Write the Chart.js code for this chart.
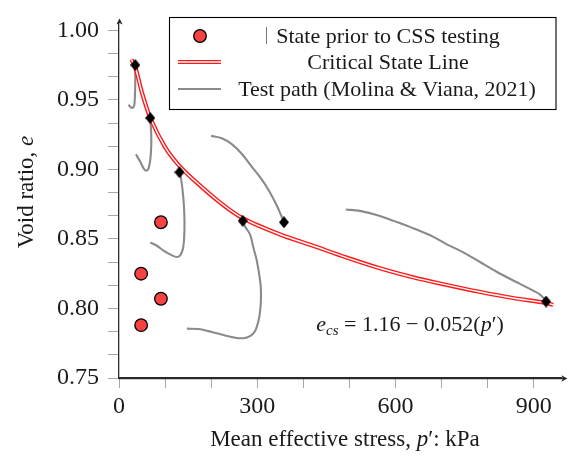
<!DOCTYPE html>
<html><head><meta charset="utf-8">
<script src="https://cdn.jsdelivr.net/npm/chart.js@4.4.1/dist/chart.umd.min.js"></script>
<style>html,body{margin:0;padding:0;background:#fff}</style>
</head><body>
<canvas id="c" width="569" height="457"></canvas>
<script>
// ---------- data ----------
const statePriorP = [91, 48, 91, 48];
const statePriorE = [0.862, 0.825, 0.807, 0.788];

const testEndP = [35.3, 67.8, 131.2, 268.5, 358.0, 926.8];
const testEndE = [0.975, 0.937, 0.898, 0.863, 0.862, 0.805];

const cslP = [27, 35, 50, 68, 100, 131, 165, 220, 268, 350, 421, 494, 566, 638, 696, 782, 855, 927, 942];
const cslE = [0.979, 0.974, 0.955, 0.937, 0.916, 0.9025, 0.8916, 0.876, 0.865, 0.8532, 0.8451, 0.8366, 0.8289, 0.8224, 0.818, 0.812, 0.8075, 0.804, 0.8026];

const path1P = [35.3, 35.3, 34.6, 33.1, 29.4, 24.5, 20.8];
const path1E = [0.9751, 0.9624, 0.9531, 0.9461, 0.9443, 0.9450, 0.9466];
const path2P = [67.8, 69.9, 69.9, 67.8, 64.1, 59.1, 53.3, 46.1, 36.8];
const path2E = [0.9369, 0.9252, 0.9159, 0.9067, 0.9008, 0.8990, 0.9008, 0.9055, 0.9109];
const path3P = [131.2, 134.3, 137.7, 140.8, 142.1, 141.4, 138.6, 132.7, 125.6, 114.8, 96.6, 82.3, 67.8];
const path3E = [0.8978, 0.8939, 0.8858, 0.8742, 0.8625, 0.8510, 0.8428, 0.8382, 0.8370, 0.8382, 0.8416, 0.8451, 0.8475];
const path4P = [199.9, 223.0, 244.7, 266.3, 288.0, 309.7, 327.6, 342.1, 351.5, 358.0];
const path4E = [0.9241, 0.9224, 0.9182, 0.9113, 0.9020, 0.8928, 0.8834, 0.8742, 0.8672, 0.8621];
const path5P = [268.5, 273.5, 284.3, 291.5, 298.8, 303.8, 307.5, 308.1, 306.0, 302.3, 295.1, 284.3, 269.8, 251.8, 230.2, 201.4, 172.4, 147.2];
const path5E = [0.8632, 0.8590, 0.8533, 0.8440, 0.8347, 0.8254, 0.8162, 0.8068, 0.7976, 0.7906, 0.7836, 0.7801, 0.7786, 0.7790, 0.7806, 0.7831, 0.7852, 0.7855];
const path6P = [492.2, 522.5, 551.3, 580.3, 609.1, 645.3, 681.2, 710.3, 746.2, 782.4, 818.5, 854.5, 890.6, 912.3, 926.8];
const path6E = [0.8712, 0.8702, 0.8679, 0.8649, 0.8614, 0.8568, 0.8517, 0.8463, 0.8405, 0.8336, 0.8266, 0.8203, 0.8143, 0.8103, 0.8057];

const xMajorTicks = [0, 300, 600, 900];
const yMajorTicks = [0.75, 0.80, 0.85, 0.90, 0.95, 1.00];
const minorPerInterval = 2;

const seriesLabels = ['State prior to CSS testing', 'Critical State Line', 'Test path (Molina & Viana, 2021)'];
const xTitle = ['Mean effective stress, ', 'p', '\u2032: kPa'];
const yTitle = ['Void ratio, ', 'e'];

// ---------- helpers ----------
const pts = (xs, ys) => xs.map((x, i) => ({x: x, y: ys[i]}));
function withMinors(majors) {
  const out = [];
  for (let i = 0; i < majors.length; i++) {
    out.push(majors[i]);
    if (i < majors.length - 1) {
      const step = (majors[i + 1] - majors[i]) / (minorPerInterval + 1);
      for (let k = 1; k <= minorPerInterval; k++) out.push(majors[i] + k * step);
    }
  }
  return out;
}
const xTickValues = withMinors(xMajorTicks);
const yTickValues = withMinors(yMajorTicks);
const isMajor = (v, majors) => majors.some(m => Math.abs(m - v) < 1e-9);

const SERIF = "'Liberation Serif', 'Times New Roman', serif";
const RED = '#f54242';
const GRAY = '#8a8a8a';

// diamond marker
const dia = document.createElement('canvas');
dia.width = 10; dia.height = 12;
(function () {
  const c = dia.getContext('2d');
  c.fillStyle = '#000';
  c.beginPath(); c.moveTo(5, 0); c.lineTo(10, 6); c.lineTo(5, 12); c.lineTo(0, 6); c.closePath(); c.fill();
})();

const pathSets = [[path1P, path1E], [path2P, path2E], [path3P, path3E], [path4P, path4E], [path5P, path5E], [path6P, path6E]]
  .map(([p, e]) => ({
    label: seriesLabels[2], data: pts(p, e), showLine: true, borderColor: GRAY, borderWidth: 2.1,
    pointRadius: 0, tension: 0.3, order: 4
  }));

const datasets = [
  {label: seriesLabels[0], data: pts(statePriorP, statePriorE), pointStyle: 'circle', pointRadius: 6.3,
   backgroundColor: RED, borderColor: '#000', borderWidth: 1.3, showLine: false, order: 0},
  {label: 'end', data: pts(testEndP, testEndE), pointStyle: dia, showLine: false, order: 1},
  {label: seriesLabels[1], data: pts(cslP, cslE), showLine: true, borderColor: '#ffffff', borderWidth: 1.4,
   pointRadius: 0, tension: 0.3, order: 2},
  {label: seriesLabels[1], data: pts(cslP, cslE), showLine: true, borderColor: '#ff1a1a', borderWidth: 4.2,
   pointRadius: 0, tension: 0.3, order: 3},
  ...pathSets
];

function drawParts(ctx, parts, cx, cy) {
  let w = 0;
  parts.forEach(p => { ctx.font = p[1]; w += ctx.measureText(p[0]).width; });
  let x = cx - w / 2;
  parts.forEach(p => {
    ctx.font = p[1];
    ctx.fillText(p[0], x, cy + (p[2] || 0));
    x += ctx.measureText(p[0]).width;
  });
}

const decor = {
  id: 'decor',
  afterDraw(chart) {
    const ctx = chart.ctx, a = chart.chartArea;
    ctx.save();
    // axis arrows
    ctx.fillStyle = '#2a2a2a'; ctx.strokeStyle = '#2a2a2a'; ctx.lineWidth = 1.3;
    ctx.beginPath(); ctx.moveTo(a.left, a.bottom + 0.5); ctx.lineTo(a.right + 2, a.bottom + 0.5); ctx.stroke();
    ctx.beginPath(); ctx.moveTo(a.right + 6, a.bottom + 0.5); ctx.lineTo(a.right, a.bottom - 2.7);
    ctx.lineTo(a.right + 1.5, a.bottom + 0.5); ctx.lineTo(a.right, a.bottom + 3.7); ctx.closePath(); ctx.fill();
    ctx.beginPath(); ctx.moveTo(a.left + 0.5, a.top - 5); ctx.lineTo(a.left - 2.7, a.top + 1);
    ctx.lineTo(a.left + 0.5, a.top - 0.5); ctx.lineTo(a.left + 3.7, a.top + 1); ctx.closePath(); ctx.fill();

    // legend
    const bx = 169.5, by = 17.5, bw = 386.5, bh = 92;
    ctx.fillStyle = '#fff'; ctx.fillRect(bx, by, bw, bh);
    ctx.strokeStyle = '#000'; ctx.lineWidth = 1.1; ctx.strokeRect(bx, by, bw, bh);
    const rows = [36, 62, 89];
    ctx.beginPath(); ctx.arc(200, rows[0], 6.3, 0, Math.PI * 2);
    ctx.fillStyle = RED; ctx.fill(); ctx.lineWidth = 1.3; ctx.strokeStyle = '#000'; ctx.stroke();
    ctx.lineCap = 'butt';
    ctx.strokeStyle = '#ff1a1a'; ctx.lineWidth = 4.2;
    ctx.beginPath(); ctx.moveTo(178, rows[1]); ctx.lineTo(221, rows[1]); ctx.stroke();
    ctx.strokeStyle = '#fff'; ctx.lineWidth = 1.4;
    ctx.beginPath(); ctx.moveTo(177, rows[1]); ctx.lineTo(222, rows[1]); ctx.stroke();
    ctx.strokeStyle = GRAY; ctx.lineWidth = 2.2;
    ctx.beginPath(); ctx.moveTo(178, rows[2]); ctx.lineTo(221, rows[2]); ctx.stroke();
    ctx.strokeStyle = '#777'; ctx.lineWidth = 1;
    ctx.beginPath(); ctx.moveTo(266.5, 27); ctx.lineTo(266.5, 44); ctx.stroke();
    ctx.fillStyle = '#1a1a1a'; ctx.textBaseline = 'middle'; ctx.textAlign = 'center';
    ctx.font = '22px ' + SERIF;
    ctx.fillText(seriesLabels[0], 388, rows[0] + 1);
    ctx.fillText(seriesLabels[1], 388, rows[1] + 1);
    ctx.fillText(seriesLabels[2], 387, rows[2] + 1);

    // equation
    ctx.textAlign = 'left'; ctx.textBaseline = 'alphabetic';
    const f = '22px ' + SERIF, fi = 'italic 22px ' + SERIF, fs = 'italic 15px ' + SERIF;
    drawParts(ctx, [['e', fi], ['cs', fs, 4], [' = 1.16 \u2212 0.052(', f], ['p', fi], ['\u2032)', f]], 410, 331);

    // axis titles
    const tf = '23px ' + SERIF, tfi = 'italic 23px ' + SERIF;
    ctx.textBaseline = 'middle';
    drawParts(ctx, [[xTitle[0], tf], [xTitle[1], tfi], [xTitle[2], tf]], 345, 440);
    ctx.translate(27, 192); ctx.rotate(-Math.PI / 2);
    drawParts(ctx, [[yTitle[0], tf], [yTitle[1], tfi]], 0, 0);
    ctx.restore();
  }
};

new Chart(document.getElementById('c').getContext('2d'), {
  type: 'scatter',
  data: {datasets: datasets},
  options: {
    responsive: false, animation: false, devicePixelRatio: 1,
    layout: {padding: {left: 0, right: 7, top: 12, bottom: 0}},
    plugins: {legend: {display: false}, tooltip: {enabled: false}},
    scales: {
      x: {
        type: 'linear', min: 0, max: 960,
        afterBuildTicks: s => { s.ticks = xTickValues.map(v => ({value: v})); },
        afterFit: s => { s.height = 79; },
        ticks: {callback: v => isMajor(v, xMajorTicks) ? String(v) : '', autoSkip: false, maxRotation: 0,
                font: {family: SERIF, size: 24}, color: '#1a1a1a', padding: 4},
        grid: {drawOnChartArea: false, drawTicks: true, tickLength: 10, color: '#a8a8a8', lineWidth: 1},
        border: {display: true, color: '#2a2a2a', width: 1.3}
      },
      y: {
        type: 'linear', min: 0.75, max: 1.005,
        afterBuildTicks: s => { s.ticks = yTickValues.map(v => ({value: v})); },
        afterFit: s => { s.width = 119; },
        ticks: {callback: v => isMajor(v, yMajorTicks) ? v.toFixed(2) : '', autoSkip: false,
                font: {family: SERIF, size: 24}, color: '#1a1a1a', padding: 9},
        grid: {drawOnChartArea: false, drawTicks: true, tickLength: 11, color: '#a8a8a8', lineWidth: 1},
        border: {display: true, color: '#2a2a2a', width: 1.3}
      }
    }
  },
  plugins: [decor]
});
</script>
</body></html>
